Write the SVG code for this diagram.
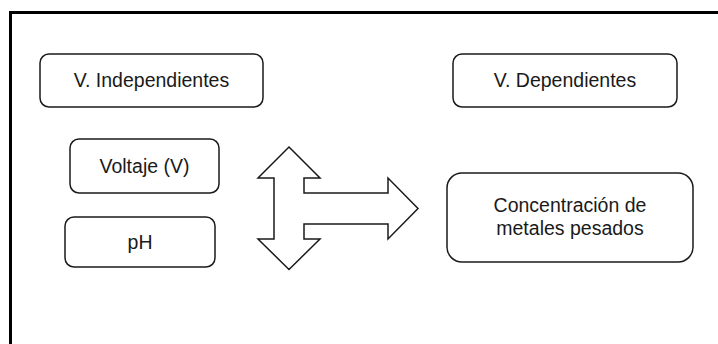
<svg xmlns="http://www.w3.org/2000/svg" width="718" height="344" viewBox="0 0 718 344">
<style>
.box{fill:#fff;stroke:#1a1a1a;stroke-width:1.5}
.lbl{font-family:"Liberation Sans",Arial,sans-serif;font-size:19.5px;fill:#1a1a1a;text-anchor:middle}
.frame{fill:none;stroke:#000;stroke-width:3}
</style>
<rect x="0" y="0" width="718" height="344" fill="#fff"/>
<path class="frame" d="M10.5,344 V12.5 H720"/>
<g id="n-indep">
<rect class="box" x="40" y="54" width="223" height="53" rx="9"/>
<text class="lbl" x="151.5" y="87.3">V. Independientes</text>
</g>
<g id="n-dep">
<rect class="box" x="453" y="54" width="224" height="53" rx="9"/>
<text class="lbl" x="565" y="87.3">V. Dependientes</text>
</g>
<g id="n-voltaje">
<rect class="box" x="70" y="139" width="149" height="54" rx="9"/>
<text class="lbl" x="144.5" y="172.5">Voltaje (V)</text>
</g>
<g id="n-ph">
<rect class="box" x="65" y="217" width="150" height="50" rx="9"/>
<text class="lbl" x="140" y="248.5">pH</text>
</g>
<g id="n-conc">
<rect class="box" x="447" y="173" width="246" height="89" rx="15"/>
<text class="lbl" x="570" y="212.3">Concentración de</text>
<text class="lbl" x="570" y="235">metales pesados</text>
</g>
<g id="connectors">
<polygon class="box" points="289,147 320,178 304,178 304,193 388,193 388,178 418,208.5 388,239 388,224 304,224 304,239 320,239 289,269.5 258,239 274,239 274,178 258,178"/>
</g>
</svg>
